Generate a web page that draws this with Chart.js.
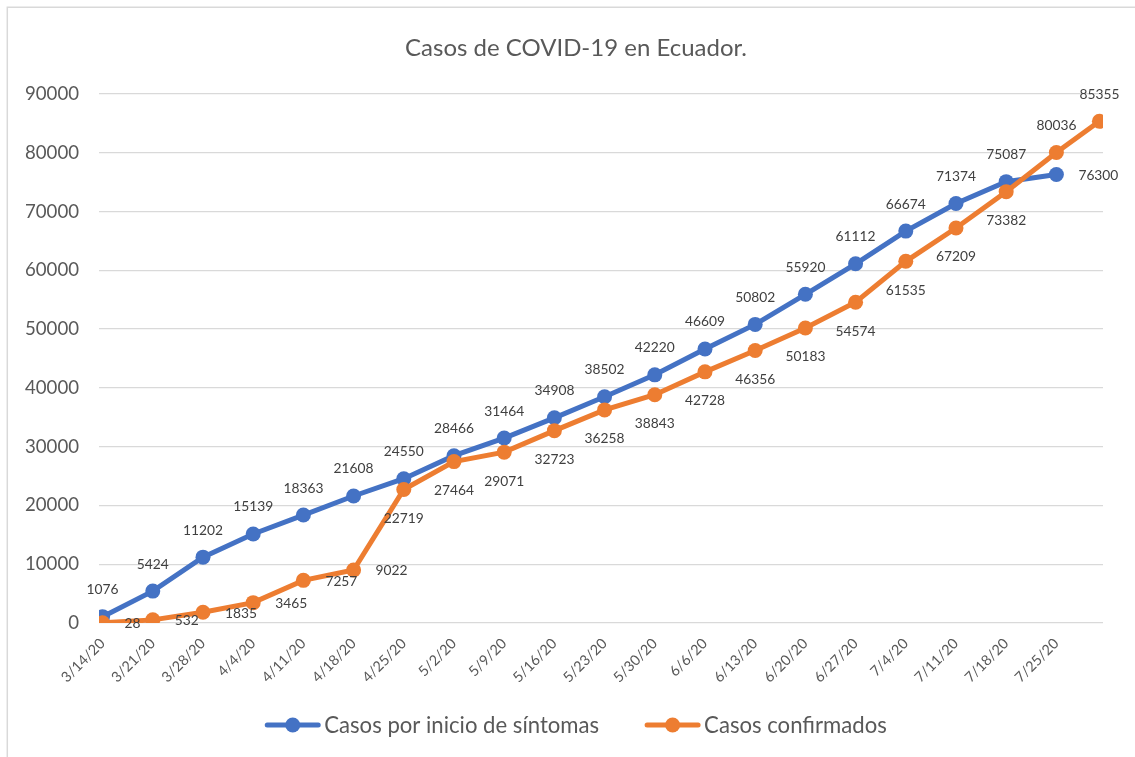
<!DOCTYPE html>
<html><head><meta charset="utf-8">
<script src="https://cdn.jsdelivr.net/npm/chart.js@4.4.0/dist/chart.umd.min.js"></script>
<style>html,body{margin:0;padding:0;background:#fff;}#wrap{position:relative;width:1135px;height:757px;}</style>
</head><body><div id="wrap"><canvas id="c" width="1135" height="757"></canvas></div>
<script>
// ---------------- data ----------------
const chartTitle = 'Casos de COVID-19 en Ecuador.';
const seriesNames = ['Casos por inicio de síntomas', 'Casos confirmados'];
const tickLabels = ['3/14/20','3/21/20','3/28/20','4/4/20','4/11/20','4/18/20','4/25/20','5/2/20','5/9/20','5/16/20',
  '5/23/20','5/30/20','6/6/20','6/13/20','6/20/20','6/27/20','7/4/20','7/11/20','7/18/20','7/25/20'];
const symptomDates = ['3/14/20','3/21/20','3/28/20','4/4/20','4/11/20','4/18/20','4/25/20','5/2/20','5/9/20','5/16/20',
  '5/23/20','5/30/20','6/6/20','6/13/20','6/20/20','6/27/20','7/4/20','7/11/20','7/18/20','7/25/20'];
const symptomCases = [1076,5424,11202,15139,18363,21608,24550,28466,31464,34908,38502,42220,46609,50802,55920,61112,66674,71374,75087,76300];
const confirmedDates = ['3/14/20','3/21/20','3/28/20','4/4/20','4/11/20','4/18/20','4/25/20','5/2/20','5/9/20','5/16/20',
  '5/23/20','5/30/20','6/6/20','6/13/20','6/20/20','6/27/20','7/4/20','7/11/20','7/18/20','7/25/20','7/31/20'];
const confirmedCases = [28,532,1835,3465,7257,9022,22719,27464,29071,32723,36258,38843,42728,46356,50183,54574,61535,67209,73382,80036,85355];
const yMin = 0, yMax = 90000, yStep = 10000;

// ---------------- style ----------------
const symptomLabelPos = ['above','above','above','above','above','above','above','above','above','above',
  'above','above','above','above','above','above','above','above','above','right'];
const confirmedLabelPos = ['right','right','right','right','right','right','below','below','below','below',
  'below','below','below','below','below','below','below','below','below','above','above'];
const BLUE = '#4472C4', ORANGE = '#ED7D31', TEXT = '#595959', LABEL = '#404040', GRID = '#d9d9d9';
const FAMILY = 'Lato, "Open Sans", sans-serif';

function fitSize(text, target) {
  const c = document.createElement('canvas').getContext('2d');
  c.font = '100px ' + FAMILY;
  return 100 * target / c.measureText(text).width;
}
const titleSize = fitSize(chartTitle, 342);
const legendSize = fitSize(seriesNames[0], 275);
const yTickSize = fitSize('90000', 54);
const dataLabelSize = fitSize('85355', 40);
const xTickSize = fitSize('3/14/20', 55);

function parseMDY(s) { const [m, d, y] = s.split('/').map(Number); return Date.UTC(2000 + y, m - 1, d); }
const origin = parseMDY(tickLabels[0]);
const dayOf = s => Math.round((parseMDY(s) - origin) / 86400000);
const tickDayToLabel = {};
tickLabels.forEach(l => { tickDayToLabel[dayOf(l)] = l; });
const lastDay = Math.max(...confirmedDates.map(dayOf), ...symptomDates.map(dayOf));

const symptomPoints = symptomDates.map((d, i) => ({ x: dayOf(d), y: symptomCases[i] }));
const confirmedPoints = confirmedDates.map((d, i) => ({ x: dayOf(d), y: confirmedCases[i] }));

const dataLabelPlugin = {
  id: 'dataLabelPlugin',
  afterDatasetsDraw(chart) {
    const ctx = chart.ctx;
    ctx.save();
    ctx.font = dataLabelSize + 'px ' + FAMILY;
    ctx.fillStyle = LABEL;
    ctx.textBaseline = 'middle';
    const posSets = [symptomLabelPos, confirmedLabelPos];
    chart.data.datasets.forEach((ds, di) => {
      const meta = chart.getDatasetMeta(di);
      meta.data.forEach((pt, i) => {
        const v = ds.data[i].y;
        const pos = posSets[di][i];
        let x = pt.x, y = pt.y;
        if (pos === 'above') { ctx.textAlign = 'center'; y -= 27; }
        else if (pos === 'below') { ctx.textAlign = 'center'; y += 29; }
        else { ctx.textAlign = 'left'; x += 22; y += 1; }
        ctx.fillText(String(v), x, y);
      });
    });
    ctx.restore();
  }
};

const decorPlugin = {
  id: 'decorPlugin',
  beforeDraw(chart) {
    const ctx = chart.ctx;
    ctx.save();
    ctx.fillStyle = '#fff';
    ctx.fillRect(0, 0, chart.width, chart.height);
    ctx.strokeStyle = GRID; ctx.lineWidth = 1.5;
    ctx.beginPath(); ctx.moveTo(7.3, chart.height); ctx.lineTo(7.3, 7.3); ctx.lineTo(chart.width, 7.3); ctx.stroke();
    ctx.restore();
  },
  afterDraw(chart) {
    const ctx = chart.ctx;
    const cx = 576;
    ctx.save();
    ctx.fillStyle = TEXT;
    ctx.font = titleSize + 'px ' + FAMILY;
    ctx.textAlign = 'center'; ctx.textBaseline = 'alphabetic';
    ctx.fillText(chartTitle, cx, 55.5);
    // legend
    ctx.font = legendSize + 'px ' + FAMILY;
    const symW = 55, gapT = 4, gapItem = 46;
    const w0 = ctx.measureText(seriesNames[0]).width, w1 = ctx.measureText(seriesNames[1]).width;
    const total = symW + gapT + w0 + gapItem + symW + gapT + w1;
    let x = cx - total / 2;
    const ly = 725;
    const colors = [BLUE, ORANGE];
    [w0, w1].forEach((w, i) => {
      ctx.strokeStyle = colors[i]; ctx.lineWidth = 5; ctx.lineCap = 'round';
      ctx.beginPath(); ctx.moveTo(x + 2, ly); ctx.lineTo(x + symW - 2, ly); ctx.stroke();
      ctx.fillStyle = colors[i];
      ctx.beginPath(); ctx.arc(x + symW / 2, ly, 7.5, 0, Math.PI * 2); ctx.fill();
      ctx.fillStyle = TEXT; ctx.textAlign = 'left';
      ctx.fillText(seriesNames[i], x + symW + gapT, 733);
      x += symW + gapT + w + gapItem;
    });
    ctx.restore();
  }
};

new Chart(document.getElementById('c'), {
  type: 'line',
  data: {
    datasets: [
      { label: seriesNames[0], data: symptomPoints, borderColor: BLUE, backgroundColor: BLUE,
        borderWidth: 5, pointRadius: 7.5, pointBorderWidth: 0, pointBackgroundColor: BLUE, tension: 0, order: 1 },
      { label: seriesNames[1], data: confirmedPoints, borderColor: ORANGE, backgroundColor: ORANGE,
        borderWidth: 5, pointRadius: 7.5, pointBorderWidth: 0, pointBackgroundColor: ORANGE, tension: 0, order: 0 }
    ]
  },
  options: {
    responsive: false, animation: false, devicePixelRatio: 1,
    layout: { padding: { top: 94, right: 32, bottom: 44, left: 0 } },
    plugins: { legend: { display: false }, title: { display: false }, tooltip: { enabled: false } },
    scales: {
      x: {
        type: 'linear', min: -0.5, max: lastDay + 0.5,
        afterBuildTicks(scale) { scale.ticks = tickLabels.map(l => ({ value: dayOf(l) })); },
        afterFit(scale) { scale.height = 90; },
        grid: { display: false }, border: { display: false },
        ticks: { autoSkip: false, minRotation: 45, maxRotation: 45, padding: 4, color: TEXT,
          font: { family: FAMILY, size: xTickSize },
          callback: v => tickDayToLabel[v] || '' }
      },
      y: {
        min: yMin, max: yMax,
        afterFit(scale) { scale.width = 99; },
        grid: { color: GRID, lineWidth: 1.3, drawTicks: false }, border: { display: false },
        ticks: { stepSize: yStep, padding: 20, color: TEXT, font: { family: FAMILY, size: yTickSize },
          callback: v => String(v) }
      }
    }
  },
  plugins: [decorPlugin, dataLabelPlugin]
});
</script></body></html>
